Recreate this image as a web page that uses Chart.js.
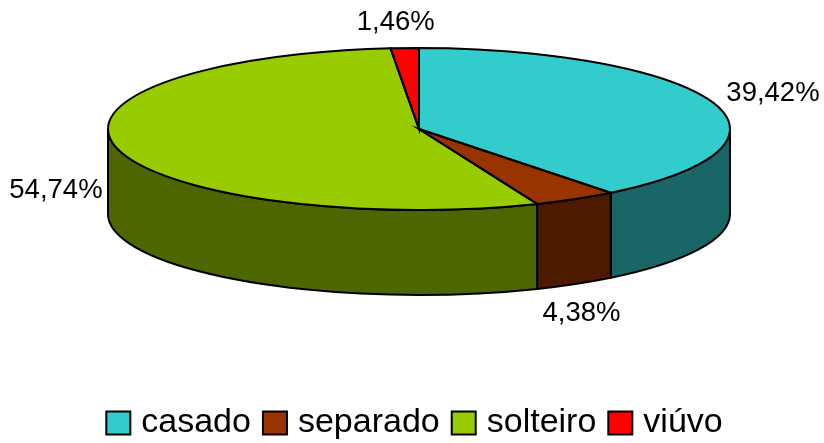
<!DOCTYPE html>
<html>
<head>
<meta charset="utf-8">
<style>
html, body { margin: 0; padding: 0; background: #fff; }
#wrap { width: 824px; height: 443px; }
</style>
<script src="https://cdn.jsdelivr.net/npm/chart.js@4"></script>
</head>
<body>
<div id="wrap"><canvas id="pie"></canvas></div>
<script>
// Chart data
const categories = ['casado', 'separado', 'solteiro', 'viúvo'];
const shares = [39.42, 4.38, 54.74, 1.46];
const valueLabels = ['39,42%', '4,38%', '54,74%', '1,46%'];
const topColors = ['#33CCCC', '#993300', '#99CC00', '#FF0000'];
const sideColors = ['#1A6666', '#4D1A00', '#4D6600', '#800000'];

// Tilted disc geometry, in page pixels
const centerX = 419, centerY = 129;
const radiusX = 311, radiusY = 81, depth = 85;
// Label centre relative to the rim point at the middle of each slice
const labelOffsets = [[60, -9], [6, 114], [-61, 42], [-9, -26]];
// Legend swatch is wider than the box the library leaves room for
const swatchWidth = 24, swatchHeight = 23;

function arcsOf(chart) {
    return chart.getDatasetMeta(0).data;
}

const tiltedPie = {
    id: 'tiltedPie',
    beforeDatasetsDraw(chart) {
        const ctx = chart.ctx;
        ctx.save();
        ctx.lineWidth = 2;
        ctx.strokeStyle = '#000';
        arcsOf(chart).forEach((arc, i) => {
            // only the front half of the rim can be seen
            const from = Math.max(arc.startAngle, 0);
            const to = Math.min(arc.endAngle, Math.PI);
            if (to <= from) return;
            ctx.beginPath();
            ctx.ellipse(centerX, centerY, radiusX, radiusY, 0, from, to);
            ctx.ellipse(centerX, centerY + depth, radiusX, radiusY, 0, to, from, true);
            ctx.closePath();
            ctx.fillStyle = sideColors[i];
            ctx.fill();
            ctx.stroke();
        });
        ctx.restore();
    },
    beforeDatasetDraw(chart) {
        // squash the library's round pie into the ellipse
        const ctx = chart.ctx;
        const arc = arcsOf(chart)[0];
        ctx.save();
        ctx.translate(centerX, centerY);
        ctx.scale(radiusX / arc.outerRadius, radiusY / arc.outerRadius);
        ctx.translate(-arc.x, -arc.y);
    },
    afterDatasetDraw(chart) {
        chart.ctx.restore();
    },
    afterDatasetsDraw(chart) {
        const ctx = chart.ctx;
        ctx.save();
        ctx.lineWidth = 2;
        ctx.strokeStyle = '#000';
        arcsOf(chart).forEach((arc) => {
            ctx.beginPath();
            ctx.moveTo(centerX, centerY);
            ctx.ellipse(centerX, centerY, radiusX, radiusY, 0, arc.startAngle, arc.endAngle);
            ctx.closePath();
            ctx.stroke();
        });
        ctx.fillStyle = '#000';
        ctx.font = '27.5px "Liberation Sans"';
        ctx.textAlign = 'center';
        ctx.textBaseline = 'middle';
        arcsOf(chart).forEach((arc, i) => {
            const mid = (arc.startAngle + arc.endAngle) / 2;
            const x = centerX + radiusX * Math.cos(mid) + labelOffsets[i][0];
            const y = centerY + radiusY * Math.sin(mid) + labelOffsets[i][1];
            ctx.fillText(valueLabels[i], x, y);
        });
        ctx.restore();
    },
    afterDraw(chart) {
        // widen the legend boxes without moving their text
        const ctx = chart.ctx;
        ctx.save();
        ctx.lineWidth = 2;
        ctx.strokeStyle = '#000';
        chart.legend.legendHitBoxes.forEach((hit, i) => {
            const top = hit.top + (hit.height - swatchHeight) / 2;
            ctx.fillStyle = topColors[i];
            ctx.fillRect(hit.left, top, swatchWidth, swatchHeight);
            ctx.strokeRect(hit.left, top, swatchWidth, swatchHeight);
        });
        ctx.restore();
    }
};

new Chart(document.getElementById('pie'), {
    type: 'pie',
    data: {
        labels: categories,
        datasets: [{
            data: shares,
            backgroundColor: topColors,
            borderWidth: 0
        }]
    },
    options: {
        responsive: true,
        maintainAspectRatio: false,
        animation: false,
        events: [],
        layout: { padding: { left: 5, bottom: -7 } },
        plugins: {
            tooltip: { enabled: false },
            legend: {
                position: 'bottom',
                labels: {
                    boxWidth: 18,
                    boxHeight: 20,
                    padding: 12,
                    color: '#000',
                    font: { family: '"Liberation Sans"', size: 34 }
                }
            }
        }
    },
    plugins: [tiltedPie]
});
</script>
</body>
</html>
